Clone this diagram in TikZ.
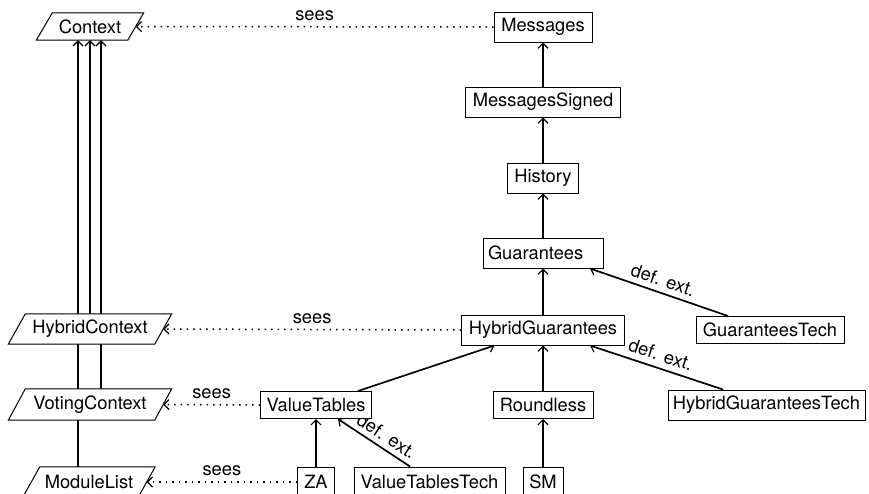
\documentclass[tikz,border=0pt]{standalone}
\usepackage{fontspec}
\setmainfont{TeX Gyre Heros}
\usetikzlibrary{arrows.meta}
\pgfdeclarelayer{edges}
\pgfdeclarelayer{shapes}
\pgfsetlayers{edges,shapes,main}
\begin{document}
\begin{tikzpicture}[x=1pt,y=-1pt,
  font=\fontsize{18.3}{21}\selectfont,
  box/.style={draw,line width=1pt,fill=white,inner xsep=2pt,inner ysep=0pt,minimum height=30pt},
  plg/.style={inner sep=0pt,minimum height=#1},
  plg/.default=30pt,
  tip/.style={-{Straight Barb[length=5pt,width=10pt,line width=1.2pt]}},
  dep/.style={tip,line width=1.7pt},
  sees/.style={tip,line width=1.5pt,dash pattern=on 1.5pt off 5pt},
  lbl/.style={inner sep=2pt}]
\useasboundingbox (0,0) rectangle (869,493);
\clip (0,0) rectangle (869,493);

% machines and refinements (right column)
\node[box,minimum width=98pt] (Messages) at (543,27) {Messages};
\node[box,minimum width=155pt] (MessagesSigned) at (543,102) {MessagesSigned};
\node[box,minimum width=71pt] (History) at (543,178) {History};
\node[box,text width=110pt,align=left,inner xsep=5pt] (Guarantees) at (543,253) {Guarantees};
\node[box,minimum width=163pt] (HybridGuarantees) at (543,330) {HybridGuarantees};
\node[box,minimum width=148pt,minimum height=27pt] (GuaranteesTech) at (770,330) {GuaranteesTech};
\node[box,minimum width=100pt,minimum height=27pt] (Roundless) at (543,405) {Roundless};
\node[box,minimum width=197pt] (HybridGuaranteesTech) at (766.5,405) {HybridGuaranteesTech};
\node[box,minimum width=111pt,minimum height=27pt] (ValueTables) at (316,405) {ValueTables};
\node[box,minimum width=40pt] (SM) at (543,482) {SM};
\node[box,minimum width=37pt] (ZA) at (316,482) {ZA};
\node[box,minimum width=151pt] (ValueTablesTech) at (429.5,482) {ValueTablesTech};

% contexts (left column), outlines drawn below
\node[plg=27pt,minimum width=91pt] (Context) at (90,26.5) {Context};
\node[plg,minimum width=146pt] (HybridContext) at (90,329) {HybridContext};
\node[plg=31pt,minimum width=146pt] (VotingContext) at (90,404.5) {VotingContext};
\node[plg,minimum width=115pt] (ModuleList) at (89,482) {ModuleList};

\begin{pgfonlayer}{shapes}
  \foreach \n/\s in {Context/8,HybridContext/8.5,VotingContext/8.5,ModuleList/8.5}
    \draw[line width=1pt,fill=white]
      ([xshift=-\s pt]\n.south west) -- ([xshift=\s pt]\n.north west) --
      ([xshift=\s pt]\n.north east) -- ([xshift=-\s pt]\n.south east) -- cycle;
\end{pgfonlayer}

\begin{pgfonlayer}{edges}
  % refinement chain
  \draw[dep] (MessagesSigned) -- (Messages);
  \draw[dep] (History) -- (MessagesSigned);
  \draw[dep] (Guarantees) -- (History);
  \draw[dep] (HybridGuarantees) -- (Guarantees);
  \draw[dep] (Roundless) -- (HybridGuarantees);
  \draw[dep] (SM) -- (Roundless);
  \draw[dep] (ZA) -- (ValueTables);
  \draw[dep] ([xshift=42pt]ValueTables.north) -- ([xshift=-48.5pt]HybridGuarantees.south);
  % definitional extensions
  \draw[dep] ([xshift=-42pt]GuaranteesTech.north) -- node[lbl,sloped,above=3pt] {def. ext.} ([xshift=47pt]Guarantees.south);
  \draw[dep] ([xshift=-43.5pt]HybridGuaranteesTech.north) -- node[lbl,sloped,above=4pt] {def. ext.} ([xshift=47pt]HybridGuarantees.south);
  \draw[dep] ([xshift=-19.5pt]ValueTablesTech.north) -- node[lbl,sloped,above=3pt,pos=0.42] {def. ext.} ([xshift=22pt]ValueTables.south);
  % context extensions
  \draw[dep] ([xshift=-11pt]ModuleList.north) -- ([xshift=-12pt]Context.south);
  \draw[dep] (HybridContext.north) -- (Context.south);
  \draw[dep] ([xshift=11pt]VotingContext.north) -- ([xshift=11pt]Context.south);
  % sees
  \draw[sees] (Messages.west) -- node[lbl,above=3pt] {sees} (Context.east);
  \draw[sees] (HybridGuarantees.west) -- node[lbl,above=3pt] {sees} (HybridContext.east);
  \draw[sees] (ValueTables.west) -- node[lbl,above=3pt] {sees} (VotingContext.east);
  \draw[sees] (ZA.west) -- node[lbl,above=3pt] {sees} (ModuleList.east);
\end{pgfonlayer}
\end{tikzpicture}
\end{document}
